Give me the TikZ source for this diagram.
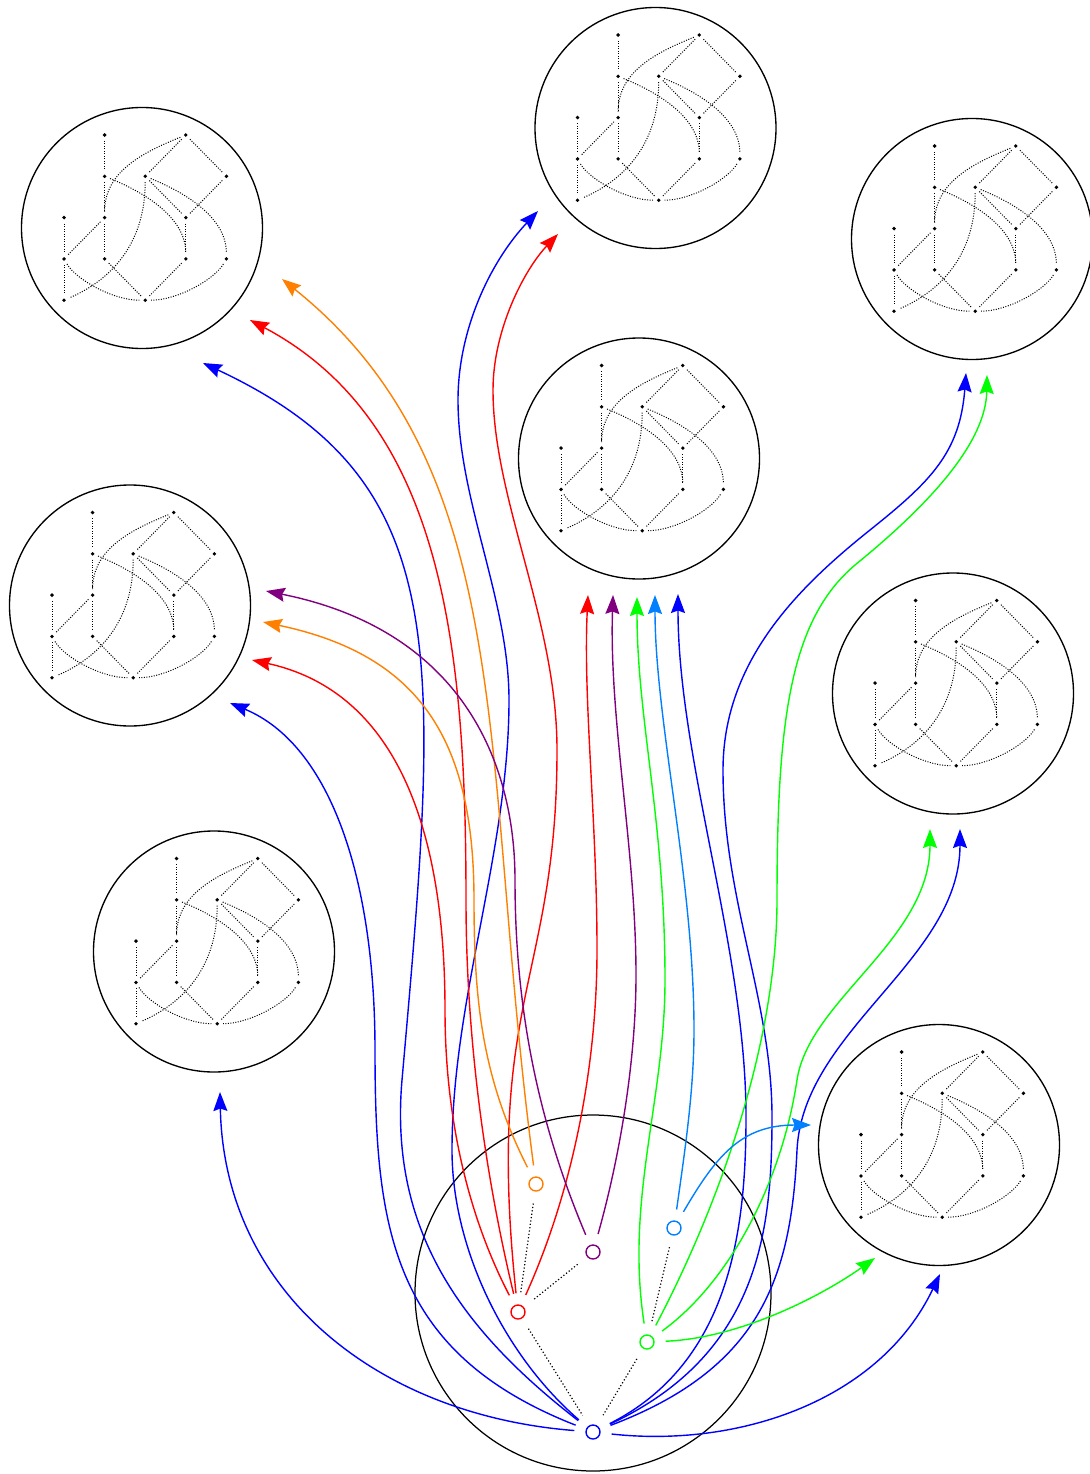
\documentclass[tikz,border=0pt]{standalone}
\usetikzlibrary{arrows.meta}
\definecolor{cblue}{RGB}{0,0,255}
\definecolor{cred}{RGB}{255,0,0}
\definecolor{corange}{RGB}{255,128,0}
\definecolor{cpurple}{RGB}{128,0,128}
\definecolor{cgreen}{RGB}{0,255,0}
\definecolor{cazure}{RGB}{0,128,255}
\tikzset{
  bigc/.style={circle, draw=black, line width=1.35pt, minimum size=241pt, inner sep=0pt},
  rootc/.style={circle, draw=black, line width=1.25pt, minimum size=356pt, inner sep=0pt},
  sn/.style={circle, line width=1.4pt, minimum size=14pt, inner sep=0pt},
  gdot/.style={circle, fill=black, inner sep=0pt, minimum size=3.8pt, outer sep=4pt},
  gedge/.style={line width=1pt, dash pattern=on 1pt off 1.5pt},
  tedge/.style={line width=1.2pt, dash pattern=on 1.2pt off 2.2pt, shorten <=12pt, shorten >=12pt},
  arr/.style={line width=1.4pt, shorten <=11pt, -{Stealth[length=19pt,width=14pt,inset=2.5pt]}},
  pics/minigraph/.style={code={
    \begin{scope}[shift={(-78pt,93pt)}, x=40.6pt, y=-41.3pt]
      \node[gdot] (-a) at (1,0) {};
      \node[gdot] (-b) at (3,0) {};
      \node[gdot] (-c) at (1,1) {};
      \node[gdot] (-d) at (2,1) {};
      \node[gdot] (-e) at (4,1) {};
      \node[gdot] (-f) at (0,2) {};
      \node[gdot] (-g) at (1,2) {};
      \node[gdot] (-h) at (3,2) {};
      \node[gdot] (-i) at (0,3) {};
      \node[gdot] (-j) at (1,3) {};
      \node[gdot] (-k) at (3,3) {};
      \node[gdot] (-l) at (4,3) {};
      \node[gdot] (-m) at (0,4) {};
      \node[gdot] (-n) at (2,4) {};
      \draw[gedge] (-a) -- (-c);
      \draw[gedge] (-c) -- (-g);
      \draw[gedge] (-g) -- (-j);
      \draw[gedge] (-f) -- (-i);
      \draw[gedge] (-i) -- (-m);
      \draw[gedge] (-h) -- (-k);
      \draw[gedge] (-b) -- (-d);
      \draw[gedge] (-b) -- (-e);
      \draw[gedge] (-e) -- (-h);
      \draw[gedge] (-d) -- (-h);
      \draw[gedge] (-g) -- (-i);
      \draw[gedge] (-j) -- (-n);
      \draw[gedge] (-k) -- (-n);
      \draw[gedge] (-b) .. controls (1.9,0.44) and (1,0.9) .. (-g);
      \draw[gedge] (-c) .. controls (2,1.4) and (3,2) .. (-k);
      \draw[gedge] (-d) .. controls (3,1.4) and (4,2) .. (-l);
      \draw[gedge] (-d) .. controls (2,2.5) and (1.3,3.45) .. (-m);
      \draw[gedge] (-i) .. controls (0.3,3.5) and (1.2,4) .. (-n);
      \draw[gedge] (-l) .. controls (3.7,3.5) and (2.8,4) .. (-n);
    \end{scope}
  }}
}
\begin{document}
\begin{tikzpicture}[x=1pt,y=-1pt]
\useasboundingbox (0,0) rectangle (1089,1474);
% big circles with graphs
\node[bigc] (c1) at (142,228) {};
\node[bigc] (c2) at (655.5,128) {};
\node[bigc] (c3) at (972,239) {};
\node[bigc] (c4) at (639,458.5) {};
\node[bigc] (c5) at (130,605.5) {};
\node[bigc] (c6) at (953,693.5) {};
\node[bigc] (c7) at (214,951.5) {};
\node[bigc] (c8) at (939,1145) {};
\pic (g1) at (c1) {minigraph};
\pic (g2) at (c2) {minigraph};
\pic (g3) at (c3) {minigraph};
\pic (g4) at (c4) {minigraph};
\pic (g5) at (c5) {minigraph};
\pic (g6) at (c6) {minigraph};
\pic (g7) at (c7) {minigraph};
\pic (g8) at (c8) {minigraph};
% root circle
\node[rootc] (c0) at (593,1293) {};
\node[sn, draw=cblue] (nb) at (593,1432) {};
\node[sn, draw=cred] (nr) at (518,1312) {};
\node[sn, draw=corange] (no) at (536,1184) {};
\node[sn, draw=cpurple] (np) at (593,1252) {};
\node[sn, draw=cgreen] (ng) at (647,1342) {};
\node[sn, draw=cazure] (na) at (674,1228) {};
\draw[tedge] (no) -- (nr);
\draw[tedge] (np) -- (nr);
\draw[tedge] (nr) -- (nb);
\draw[tedge] (na) -- (ng);
\draw[tedge] (ng) -- (nb);
% arrow tips
\coordinate (tb1) at (220,1092);
\coordinate (tb2) at (230,703);
\coordinate (tb3) at (203,363);
\coordinate (tb4) at (538,211);
\coordinate (tb5) at (678,594);
\coordinate (tb6) at (966,373);
\coordinate (tb7) at (960,829);
\coordinate (tb8) at (940,1274);
\coordinate (tr1) at (252,660);
\coordinate (tr2) at (250,320);
\coordinate (tr3) at (558,234);
\coordinate (tr4) at (588,595);
\coordinate (tor1) at (263,622);
\coordinate (tor2) at (282,279);
\coordinate (tp1) at (266,591);
\coordinate (tp2) at (613,595);
\coordinate (tg1) at (637,597);
\coordinate (tg2) at (987,375);
\coordinate (tg3) at (930,829);
\coordinate (tg4) at (875,1258);
\coordinate (ta1) at (655,595);
\coordinate (ta2) at (811,1125);
% blue
\draw[arr, cblue] (nb) .. controls (377,1415) and (224,1292) .. (tb1);
\draw[arr, cblue] (nb) .. controls (392,1353) and (375,1230) .. (375,1050) .. controls (375,880) and (331,745) .. (tb2);
\draw[arr, cblue] (nb) .. controls (461,1330) and (389,1230) .. (402,1080) .. controls (440,650) and (455,481) .. (tb3);
\draw[arr, cblue] (nb) .. controls (506,1357) and (452,1250) .. (452,1150) .. controls (452,1000) and (509,850) .. (509,700) .. controls (509,600) and (458,500) .. (458,400) .. controls (458,330) and (490,262) .. (tb4);
\draw[arr, cblue] (nb) .. controls (730,1363) and (746,1230) .. (746,1117) .. controls (746,950) and (678,760) .. (tb5);
\draw[arr, cblue] (nb) .. controls (760,1354) and (772,1230) .. (772,1117) .. controls (772,1000) and (723,900) .. (723,770) .. controls (723,660) and (800,586) .. (870,530) .. controls (930,482) and (960,453) .. (tb6);
\draw[arr, cblue] (nb) .. controls (759,1369) and (791,1280) .. (797,1150) .. controls (803,1030) and (960,960) .. (tb7);
\draw[arr, cblue] (nb) .. controls (740,1448) and (880,1400) .. (tb8);
% red
\draw[arr, cred] (nr) .. controls (465,1210) and (445,1110) .. (445,1010) .. controls (445,870) and (416,696) .. (tr1);
\draw[arr, cred] (nr) .. controls (483,1166) and (466,1030) .. (466,900) .. controls (466,643) and (442,422) .. (tr2);
\draw[arr, cred] (nr) .. controls (485,1000) and (557,980) .. (557,750) .. controls (557,620) and (493,500) .. (493,390) .. controls (493,330) and (524,270) .. (tr3);
\draw[arr, cred] (nr) .. controls (575,1186) and (597,1060) .. (597,950) .. controls (597,820) and (583,700) .. (tr4);
% orange
\draw[arr, corange] (no) .. controls (482,1078) and (474,1000) .. (474,900) .. controls (474,740) and (420,655) .. (tor1);
\draw[arr, corange] (no) .. controls (480,760) and (520,470) .. (tor2);
% purple
\draw[arr, cpurple] (np) .. controls (535,1115) and (515,1000) .. (515,880) .. controls (515,760) and (460,630) .. (tp1);
\draw[arr, cpurple] (np) .. controls (620,1156) and (636,1060) .. (636,975) .. controls (636,850) and (609,720) .. (tp2);
% green
\draw[arr, cgreen] (ng) .. controls (625,1200) and (665,1100) .. (665,980) .. controls (665,820) and (637,720) .. (tg1);
\draw[arr, cgreen] (ng) .. controls (728,1188) and (777,1030) .. (777,900) .. controls (777,720) and (790,620) .. (855,565) .. controls (935,500) and (986,440) .. (tg2);
\draw[arr, cgreen] (ng) .. controls (731,1281) and (782,1180) .. (797,1080) .. controls (809,1000) and (930,940) .. (tg3);
\draw[arr, cgreen] (ng) .. controls (743,1338) and (826,1293) .. (tg4);
% azure
\draw[arr, cazure] (na) .. controls (685,1150) and (694,1090) .. (694,1030) .. controls (694,880) and (655,720) .. (ta1);
\draw[arr, cazure] (na) .. controls (716,1156) and (741,1125) .. (ta2);
\end{tikzpicture}
\end{document}
